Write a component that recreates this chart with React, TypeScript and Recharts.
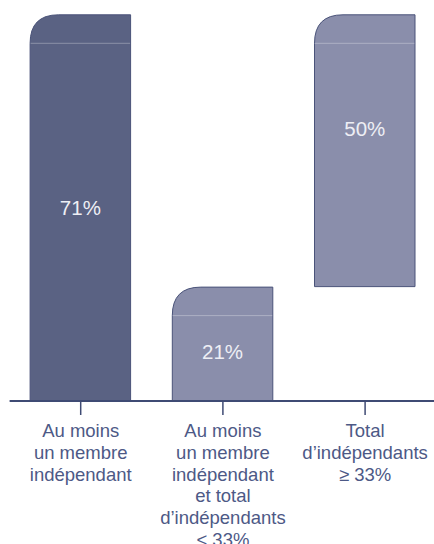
import { BarChart, Bar, XAxis, YAxis, LabelList } from "recharts";

const categories = [
	"Au moins\nun membre\nindépendant",
	"Au moins\nun membre\nindépendant\net total\nd’indépendants\n< 33%",
	"Total\nd’indépendants\n≥ 33%",
];
const baseValues = [0, 0, 21];
const shareValues = [71, 21, 50];
const barColors = ["#5a6283", "#8a8eab", "#8a8eab"];

const chartData = categories.map((name, i) => ({
	name,
	base: baseValues[i],
	share: shareValues[i],
}));

const FONT = "'Liberation Sans', Arial, Helvetica, sans-serif";
const AXIS = "#3f4b74";

const RoundedBar = (props: any) => {
	const { x, y, width, height, index } = props;
	if (!height) return null;
	const r = 29;
	const d = `M${x + 0.5},${y + height} L${x + 0.5},${y + r} Q${x + 0.5},${y + 0.5} ${x + r},${y + 0.5} L${x + width - 0.5},${y + 0.5} L${x + width - 0.5},${y + height} Z`;
	return (
		<g>
			<path d={d} fill={barColors[index]} stroke="#4a5379" strokeWidth={1} />
			<line x1={x + 1} x2={x + width - 1} y1={y + r} y2={y + r} stroke="#ffffff" strokeOpacity={0.3} strokeWidth={1} />
		</g>
	);
};

const ValueLabel = (props: any) => {
	const { x, y, width, height, value, index } = props;
	const shift = [0, 8, -22][index] ?? 0;
	return (
		<text
			x={x + width / 2}
			y={y + height / 2 + shift + 7.5}
			textAnchor="middle"
			fill="#eeeff5"
			fontSize={20.5}
			fontFamily={FONT}
		>
			{`${value}%`}
		</text>
	);
};

const CategoryTick = (props: any) => {
	const { x, y, payload } = props;
	const lines = String(payload.value).split("\n");
	return (
		<text x={x} y={y} textAnchor="middle" fill="#4d5986" fontSize={18.5} fontFamily={FONT}>
			{lines.map((line, i) => (
				<tspan key={i} x={x} y={y + 20 + i * 21.8}>
					{line}
				</tspan>
			))}
		</text>
	);
};

export default function App() {
	return (
		<div style={{ position: "absolute", left: 0, top: 0, width: 434, height: 544, overflow: "hidden", background: "#fff" }}>
			<BarChart
				width={440}
				height={544}
				data={chartData}
				margin={{ top: 14.3, right: 3.8, left: 9.6, bottom: 0 }}
				barSize={101.5}
			>
				<XAxis
					dataKey="name"
					height={143}
					interval={0}
					tickSize={14}
					tickLine={{ stroke: AXIS, strokeWidth: 1.5 }}
					axisLine={{ stroke: AXIS, strokeWidth: 2 }}
					tick={<CategoryTick />}
				/>
				<YAxis hide domain={[0, 71]} />
				<Bar dataKey="base" stackId="a" fill="transparent" isAnimationActive={false} />
				<Bar dataKey="share" stackId="a" shape={<RoundedBar />} isAnimationActive={false}>
					<LabelList dataKey="share" content={<ValueLabel />} />
				</Bar>
			</BarChart>
		</div>
	);
}
